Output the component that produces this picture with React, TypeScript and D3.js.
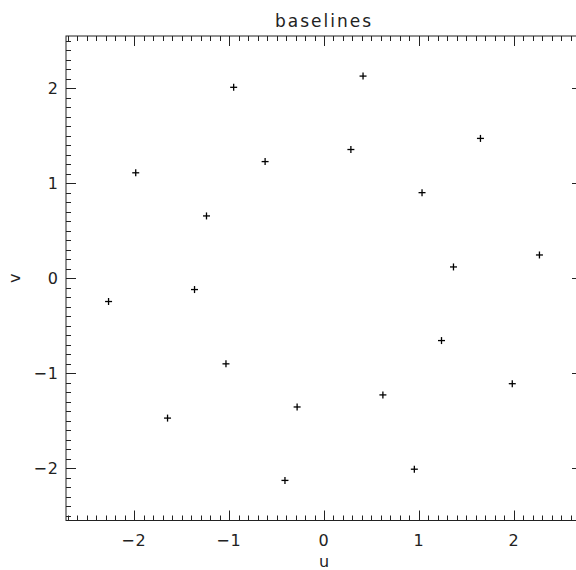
import React from "react";
import * as d3 from "d3";

const title = "baselines";
const xLabel = "u";
const yLabel = "v";
const uValues = [-0.951, 0.951, 0.411, -0.411, 1.647, -1.647, -0.62, 0.62, -1.982, 1.982, 0.283, -0.283, 1.032, -1.032, -1.237, 1.237, 2.268, -2.268, -1.363, 1.363];
const vValues = [2.01, -2.01, 2.128, -2.128, 1.472, -1.472, 1.228, -1.228, 1.11, -1.11, 1.355, -1.355, 0.901, -0.901, 0.656, -0.656, 0.245, -0.245, -0.119, 0.119];
const xTickValues = [-2, -1, 0, 1, 2];
const yTickValues = [-2, -1, 0, 1, 2];
const xDomain = [-2.716, 2.716];
const yDomain = [-2.55, 2.55];

const W = 576;
const H = 570;
const L = 66;
const R = 582;
const T = 36;
const B = 520.5;

const FONT = "'DejaVu Sans', sans-serif";

function fmt(v: number) {
  return v < 0 ? "\u2212" + Math.abs(v) : String(v);
}

export default function App() {
  const x = d3.scaleLinear().domain(xDomain).range([L, R]);
  const y = d3.scaleLinear().domain(yDomain).range([B, T]);

  const xMinor = d3.range(Math.ceil(xDomain[0] * 10), Math.floor(xDomain[1] * 10) + 1).map((k) => k / 10);
  const yMinor = d3.range(Math.ceil(yDomain[0] * 10), Math.floor(yDomain[1] * 10) + 1).map((k) => k / 10);
  const isMajor = (v: number) => Math.abs(v - Math.round(v)) < 1e-6;

  const data = uValues.map((u, i) => ({ u, v: vValues[i] }));
  const ps = 3.5;
  const axisColor = "#222";
  const textColor = "#222";

  return (
    <svg width={W} height={H} style={{ position: "absolute", left: 0, top: 0, background: "#fff" }} fontFamily={FONT}>
      <rect x={0} y={0} width={W} height={H} fill="#fff" />
      <rect x={L} y={T} width={R - L} height={B - T} fill="none" stroke={axisColor} strokeWidth={1} />
      {xMinor.map((v, i) => {
        const len = isMajor(v) ? 10 : 5;
        const px = Math.round(x(v)) + 0.5;
        return (
          <g key={"xt" + i}>
            <line x1={px} x2={px} y1={B} y2={B - len} stroke={axisColor} strokeWidth={1} />
            <line x1={px} x2={px} y1={T} y2={T + len} stroke={axisColor} strokeWidth={1} />
          </g>
        );
      })}
      {yMinor.map((v, i) => {
        const len = isMajor(v) ? 10 : 5;
        const py = Math.round(y(v)) + 0.5;
        return (
          <g key={"yt" + i}>
            <line x1={L} x2={L + len} y1={py} y2={py} stroke={axisColor} strokeWidth={1} />
            <line x1={R} x2={R - len} y1={py} y2={py} stroke={axisColor} strokeWidth={1} />
          </g>
        );
      })}
      {xTickValues.map((v) => (
        <text key={"xl" + v} x={x(v)} y={546} textAnchor="middle" fontSize={16} fill={textColor} letterSpacing={1}>
          {fmt(v)}
        </text>
      ))}
      {yTickValues.map((v) => (
        <text key={"yl" + v} x={59} y={y(v) + 6} textAnchor="end" fontSize={16} fill={textColor} letterSpacing={1}>
          {fmt(v)}
        </text>
      ))}
      <text x={x(0)} y={27} textAnchor="middle" fontSize={17} letterSpacing={2} fill={textColor}>
        {title}
      </text>
      <text x={x(0)} y={567} textAnchor="middle" fontSize={16} fill={textColor}>
        {xLabel}
      </text>
      <text transform={`translate(20, ${y(0)}) rotate(-90)`} textAnchor="middle" fontSize={16} fill={textColor}>
        {yLabel}
      </text>
      {data.map((d, i) => {
        const cx = x(d.u);
        const cy = y(d.v);
        return (
          <g key={"p" + i} stroke="#000" strokeWidth={1.3}>
            <line x1={cx - ps} x2={cx + ps} y1={cy} y2={cy} />
            <line x1={cx} x2={cx} y1={cy - ps} y2={cy + ps} />
          </g>
        );
      })}
    </svg>
  );
}
